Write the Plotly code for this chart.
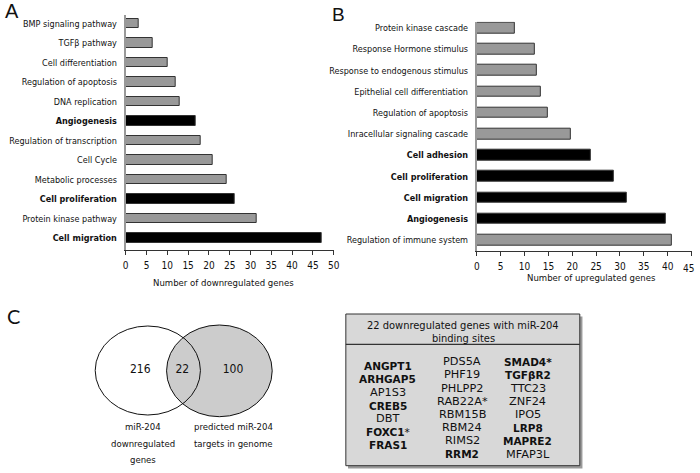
import plotly.graph_objects as go

W, H = 700, 473

# ---------------- data ----------------
catsA = ["Cell migration", "Protein kinase pathway", "Cell proliferation",
         "Metabolic processes", "Cell Cycle", "Regulation of transcription",
         "Angiogenesis", "DNA replication", "Regulation of apoptosis",
         "Cell differentiation", "TGFβ pathway", "BMP signaling pathway"]
valsA = [47.0, 31.6, 26.3, 24.3, 20.9, 18.0, 16.8, 12.9, 11.9, 10.0, 6.6, 3.1]
boldA = ["Cell migration", "Cell proliferation", "Angiogenesis"]

catsB = ["Regulation of immune system", "Angiogenesis", "Cell migration",
         "Cell proliferation", "Cell adhesion", "Inracellular signaling cascade",
         "Regulation of apoptosis", "Epithelial cell differentiation",
         "Response to endogenous stimulus", "Response Hormone stimulus",
         "Protein kinase cascade"]
valsB = [40.9, 39.7, 31.4, 28.8, 23.8, 19.8, 14.8, 13.5, 12.5, 12.1, 7.9]
boldB = ["Angiogenesis", "Cell migration", "Cell proliferation", "Cell adhesion"]

ticksA = [0, 5, 10, 15, 20, 25, 30, 35, 40, 45, 50]
ticksB = [0, 5, 10, 15, 20, 25, 30, 35, 40, 45]

venn_counts = [216, 22, 100]
venn_left_label = ["miR-204", "downregulated", "genes"]
venn_right_label = ["predicted miR-204", "targets in genome"]

table_title = ["22 downregulated genes with miR-204", "binding sites"]
genes_col1 = ["ANGPT1", "ARHGAP5", "AP1S3", "CREB5", "DBT", "FOXC1*", "FRAS1"]
genes_col2 = ["PDS5A", "PHF19", "PHLPP2", "RAB22A*", "RBM15B", "RBM24", "RIMS2", "RRM2"]
genes_col3 = ["SMAD4*", "TGFβR2", "TTC23", "ZNF24", "IPO5", "LRP8", "MAPRE2", "MFAP3L"]
bold_genes = ["ANGPT1", "ARHGAP5", "CREB5", "FOXC1", "FRAS1", "RRM2",
              "SMAD4*", "TGFβR2", "LRP8", "MAPRE2"]

# ---------------- style ----------------
FONT = "DejaVu Sans Condensed, DejaVu Sans, sans-serif"
GENE_FONT = "DejaVu Sans, sans-serif"
GRAY = "#999999"
BLACK = "#000000"


def colors(cats, bold):
    return [BLACK if c in bold else GRAY for c in cats]


def labels(cats, bold):
    return ["<b>%s</b>" % c if c in bold else c for c in cats]


def gene_label(g):
    if g in bold_genes:
        return "<b>%s</b>" % g, True
    if g.endswith("*") and g[:-1] in bold_genes:
        return "<b>%s</b>*" % g[:-1], True
    return g, False


fig = go.Figure()

fig.add_trace(go.Bar(
    x=valsA, y=list(range(len(catsA))), orientation="h", width=0.5,
    marker=dict(color=colors(catsA, boldA), line=dict(color="#333333", width=1)),
    xaxis="x", yaxis="y", showlegend=False, hoverinfo="x+text", text=catsA,
    textposition="none"))

fig.add_trace(go.Bar(
    x=valsB, y=list(range(len(catsB))), orientation="h", width=0.5,
    marker=dict(color=colors(catsB, boldB), line=dict(color="#333333", width=1)),
    xaxis="x2", yaxis="y2", showlegend=False, hoverinfo="x+text", text=catsB,
    textposition="none"))

# overlay pixel-space axes for panel C
fig.add_trace(go.Scatter(
    x=[139, 181.7, 233], y=[370, 370, 370], mode="text",
    text=[str(v) for v in venn_counts],
    textfont=dict(family=FONT, size=12, color="#111111"),
    xaxis="x3", yaxis="y3", showlegend=False, hoverinfo="skip"))


def px(x):
    return x / W


def py(y):
    return 1 - y / H


axis_common = dict(showgrid=False, zeroline=False, fixedrange=True)

fig.update_layout(
    width=W, height=H, margin=dict(l=0, r=0, t=0, b=0),
    paper_bgcolor="white", plot_bgcolor="rgba(0,0,0,0)",
    font=dict(family=FONT, size=9, color="#111111"),
    bargap=0,
    xaxis=dict(domain=[px(124.3), px(335)], range=[0, 50], tickvals=ticksA,
               ticks="outside", ticklen=4, tickcolor="#333333",
               showline=True, linecolor="#333333", linewidth=1,
               tickfont=dict(size=10), anchor="y", ticklabelstandoff=2,
               **axis_common),
    yaxis=dict(domain=[py(250), py(15)], range=[-0.615, 11.44],
               tickvals=list(range(len(catsA))), ticktext=labels(catsA, boldA),
               ticks="", showline=True, linecolor="#999999", linewidth=2,
               tickfont=dict(size=9), anchor="x", ticklabelstandoff=5,
               **axis_common),
    xaxis2=dict(domain=[px(480), px(697.5)], range=[0, 45], tickvals=ticksB,
                ticktext=[str(t) for t in ticksB[:-1]] + [""],
                ticks="outside", ticklen=4, tickcolor="#333333",
                showline=True, linecolor="#333333", linewidth=1,
                tickfont=dict(size=10), anchor="y2", ticklabelstandoff=2,
                **axis_common),
    yaxis2=dict(domain=[py(250.7), py(21.7)], range=[-0.505, 10.3],
                tickvals=list(range(len(catsB))), ticktext=labels(catsB, boldB),
                ticks="", showline=True, linecolor="#999999", linewidth=2,
                tickfont=dict(size=9), anchor="x2", ticklabelstandoff=5,
                **axis_common),
    xaxis3=dict(domain=[0, 1], range=[0, W], visible=False, anchor="y3",
                **axis_common),
    yaxis3=dict(domain=[0, 1], range=[H, 0], visible=False, anchor="x3",
                **axis_common),
)

shapes = []
# Venn: right (filled) first, then left outline
shapes.append(dict(type="circle", xref="x3", yref="y3", x0=165.7, x1=272.7,
                   y0=325, y1=416.7, fillcolor="#cccccc",
                   line=dict(color="#111111", width=1), layer="below"))
shapes.append(dict(type="circle", xref="x3", yref="y3", x0=93.4, x1=200,
                   y0=326, y1=415, fillcolor="rgba(0,0,0,0)",
                   line=dict(color="#111111", width=1), layer="below"))
# table box with shadow
shapes.append(dict(type="rect", xref="x3", yref="y3", x0=349.5, x1=587,
                   y0=316.5, y1=468.5, fillcolor="#9a9a9a",
                   line=dict(width=0), layer="below"))
shapes.append(dict(type="rect", xref="x3", yref="y3", x0=347.3, x1=584.3,
                   y0=314, y1=465.7, fillcolor="#d8d8d8",
                   line=dict(color="#333333", width=1), layer="below"))
shapes.append(dict(type="line", xref="x3", yref="y3", x0=347.3, x1=584.3,
                   y0=344.3, y1=344.3, line=dict(color="#333333", width=1.2)))
fig.update_layout(shapes=shapes)

ann = []


def txt(x, y, s, size=9, family=FONT, xanchor="center", color="#111111",
        ref="x3"):
    ann.append(dict(x=x, y=y, xref=ref, yref=ref.replace("x", "y"), text=s,
                    showarrow=False, xanchor=xanchor, yanchor="middle",
                    font=dict(family=family, size=size, color=color)))


# panel letters
txt(0.5, 11, "A", size=20, family="Liberation Sans, Arial", xanchor="left")
txt(331, 14, "B", size=19, family="Liberation Sans, Arial", xanchor="left")
txt(2, 316, "C", size=20, family="Lato, Open Sans", xanchor="left")

# axis titles
txt(223, 282, "Number of downregulated genes", size=9.5)
txt(596, 277, "Number of upregulated genes", size=9.5)
# last tick label of panel B sits slightly lower / inside the edge
txt(694, 268, str(ticksB[-1]), size=10)

# venn labels
for i, s in enumerate(venn_left_label):
    txt(141.7, 426.7 + 16.5 * i, s, size=9.5)
for i, s in enumerate(venn_right_label):
    txt(233, 426.7 + 16.5 * i, s, size=9.5)

# table
for i, s in enumerate(table_title):
    txt(466, 325 + 13.3 * i, s, size=11)
for cx, y0, col in [(390, 366, genes_col1), (465, 361.7, genes_col2),
                    (531.7, 361.7, genes_col3)]:
    for i, g in enumerate(col):
        s, b = gene_label(g)
        txt(cx, y0 + 13.2 * i, s, size=10.5 if b else 11.3, family=GENE_FONT)

fig.update_layout(annotations=ann)

fig.write_html("out.html", config={"displayModeBar": False},
               post_script="document.body.style.margin='0';document.body.style.overflow='hidden';")
